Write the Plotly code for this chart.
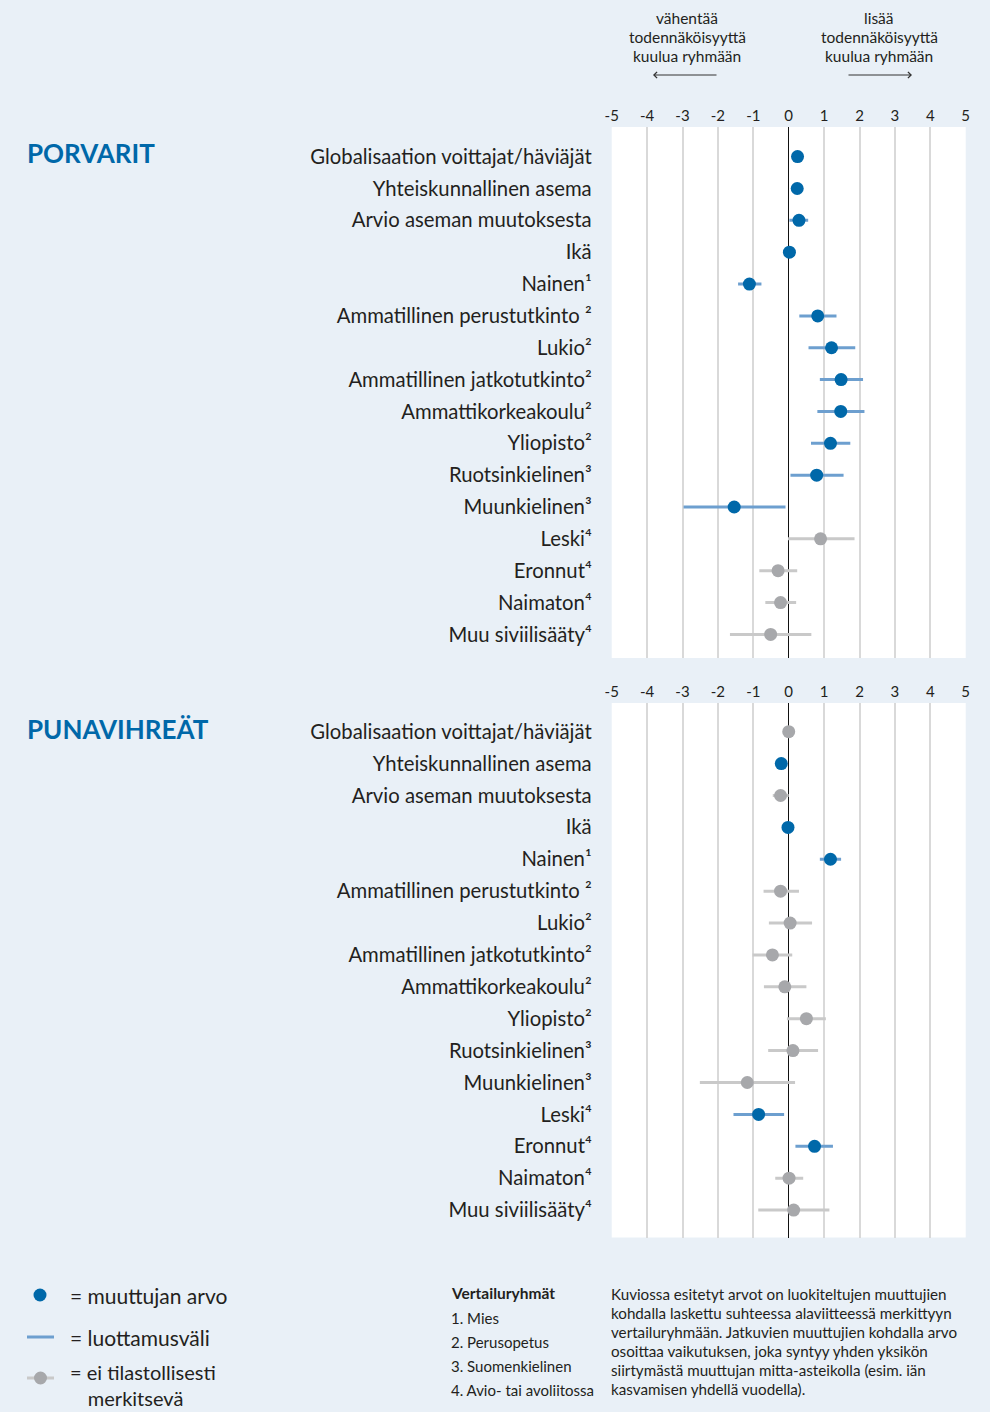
import plotly.graph_objects as go

categories = [
    "Globalisaation voittajat/häviäjät",
    "Yhteiskunnallinen asema",
    "Arvio aseman muutoksesta",
    "Ikä",
    "Nainen¹",
    "Ammatillinen perustutkinto ²",
    "Lukio²",
    "Ammatillinen jatkotutkinto²",
    "Ammattikorkeakoulu²",
    "Yliopisto²",
    "Ruotsinkielinen³",
    "Muunkielinen³",
    "Leski⁴",
    "Eronnut⁴",
    "Naimaton⁴",
    "Muu siviilisääty⁴",
]

porvarit_est = [0.25, 0.24, 0.29, 0.02, -1.11, 0.82, 1.21, 1.48, 1.47, 1.18, 0.79, -1.54, 0.90, -0.30, -0.23, -0.51]
porvarit_lo = [0.17, 0.16, 0.02, -0.06, -1.43, 0.30, 0.56, 0.88, 0.81, 0.63, 0.05, -2.97, -0.02, -0.83, -0.66, -1.66]
porvarit_hi = [0.33, 0.32, 0.55, 0.10, -0.77, 1.35, 1.88, 2.10, 2.14, 1.74, 1.55, -0.09, 1.86, 0.24, 0.21, 0.64]
porvarit_sig = [1, 1, 1, 1, 1, 1, 1, 1, 1, 1, 1, 1, 0, 0, 0, 0]

punavihreat_est = [0.00, -0.21, -0.23, -0.02, 1.18, -0.23, 0.04, -0.46, -0.11, 0.50, 0.12, -1.17, -0.85, 0.73, 0.01, 0.14]
punavihreat_lo = [-0.08, -0.29, -0.45, -0.10, 0.88, -0.71, -0.56, -1.02, -0.70, -0.05, -0.58, -2.51, -1.56, 0.19, -0.38, -0.86]
punavihreat_hi = [0.08, -0.13, 0.00, 0.06, 1.48, 0.29, 0.66, 0.10, 0.50, 1.05, 0.83, 0.18, -0.13, 1.25, 0.41, 1.15]
punavihreat_sig = [0, 1, 0, 1, 1, 0, 0, 0, 0, 0, 0, 0, 1, 1, 0, 0]

x_ticks = [-5, -4, -3, -2, -1, 0, 1, 2, 3, 4, 5]

BG = "#e9f0f7"
BLUE = "#0068a9"
BLUE_CI = "#6d9fcf"
GREY = "#a7a8ab"
GREY_CI = "#c9c9c9"
TXT = "#231f20"
FONT = "Lato"

fig = go.Figure()


def add_panel(est, lo, hi, sig, xa, ya):
    for flag, mcol, lcol in [(0, GREY, GREY_CI), (1, BLUE, BLUE_CI)]:
        idx = [i for i, s in enumerate(sig) if s == flag]
        fig.add_trace(go.Scatter(
            x=[est[i] for i in idx],
            y=[i for i in idx],
            mode="markers",
            marker=dict(size=13, color=mcol, line=dict(width=0)),
            error_x=dict(
                type="data", symmetric=False,
                array=[hi[i] - est[i] for i in idx],
                arrayminus=[est[i] - lo[i] for i in idx],
                color=lcol, thickness=3, width=0,
            ),
            xaxis=xa, yaxis=ya, showlegend=False, hoverinfo="skip",
        ))


add_panel(porvarit_est, porvarit_lo, porvarit_hi, porvarit_sig, "x", "y")
add_panel(punavihreat_est, punavihreat_lo, punavihreat_hi, punavihreat_sig, "x2", "y2")

xdom = [611.7 / 990, 965.7 / 990]
axis_x = dict(
    range=[-5, 5], tickvals=x_ticks, ticktext=[str(v) for v in x_ticks],
    side="top", showgrid=True, gridcolor="#d9d9d9", gridwidth=2,
    zeroline=True, zerolinecolor="#111111", zerolinewidth=1.5,
    showline=False, ticks="", tickfont=dict(family=FONT, size=15, color=TXT),
    ticklabelstandoff=2, fixedrange=True, automargin=False,
)
axis_y = dict(
    tickvals=list(range(len(categories))), ticktext=categories,
    showgrid=False, zeroline=False, showline=False, ticks="",
    tickfont=dict(family=FONT, size=20.3, color=TXT),
    ticklabelstandoff=19, fixedrange=True, automargin=False,
)

fig.update_layout(
    template="none",
    width=990, height=1412,
    margin=dict(l=0, r=0, t=0, b=0, pad=0, autoexpand=False),
    paper_bgcolor=BG, plot_bgcolor="white",
    showlegend=False,
    xaxis=dict(axis_x, domain=xdom, anchor="y"),
    yaxis=dict(axis_y, domain=[1 - 658 / 1412, 1 - 127 / 1412], range=[15.74, -0.93], anchor="x"),
    xaxis2=dict(axis_x, domain=xdom, anchor="y2"),
    yaxis2=dict(axis_y, domain=[1 - 1237.5 / 1412, 1 - 703 / 1412], range=[15.86, -0.9], anchor="x2"),
)


def px_x(p):
    return p / 990


def px_y(p):
    return 1 - p / 1412


ann = []


def text(x, y, s, size=14, color=TXT, xanchor="left", align="left", bold=False, family=FONT):
    if bold:
        s = "<b>" + s + "</b>"
    ann.append(dict(x=px_x(x), y=px_y(y), xref="paper", yref="paper", text=s,
                    showarrow=False, xanchor=xanchor, yanchor="middle", align=align,
                    borderpad=0, borderwidth=0,
                    font=dict(family=family, size=size, color=color)))


# header explanations
hdr_left = ["vähentää", "todennäköisyyttä", "kuulua ryhmään"]
hdr_right = ["lisää", "todennäköisyyttä", "kuulua ryhmään"]
for k, s in enumerate(hdr_left):
    text(687, 18 + 19 * k, s, size=15.5, xanchor="center")
for k, s in enumerate(hdr_right):
    text(879, 18 + 19 * k, s, size=15.5, xanchor="center")

# arrows
for x0, x1 in [(718, 653), (847, 912)]:
    ann.append(dict(x=px_x(x1), y=px_y(75), ax=x0 - x1, ay=0, xref="paper", yref="paper",
                    axref="pixel", ayref="pixel", text="", showarrow=True, arrowhead=4,
                    arrowsize=1.2, arrowwidth=1, arrowcolor="#333333"))

# panel titles
text(27, 153, "PORVARIT", size=26, color=BLUE, bold=True)
text(27, 729, "PUNAVIHREÄT", size=26, color=BLUE, bold=True)

# legend
text(70, 1295, "= muuttujan arvo", size=21)
text(70, 1337, "= luottamusväli", size=21)
text(70, 1385, "= ei tilastollisesti<br>\u00a0\u00a0\u00a0\u2009merkitsevä", size=20)

text(451, 1293, "Vertailuryhmät", size=15.5, bold=True)
for k, s in enumerate(["1. Mies", "2. Perusopetus", "3. Suomenkielinen", "4. Avio- tai avoliitossa"]):
    text(451, 1318 + 24 * k, s, size=15)

note_lines = [
    "Kuviossa esitetyt arvot on luokiteltujen muuttujien",
    "kohdalla laskettu suhteessa alaviitteessä merkittyyn",
    "vertailuryhmään. Jatkuvien muuttujien kohdalla arvo",
    "osoittaa vaikutuksen, joka syntyy yhden yksikön",
    "siirtymästä muuttujan mitta-asteikolla (esim. iän",
    "kasvamisen yhdellä vuodella).",
]
for k, s in enumerate(note_lines):
    text(611, 1294 + 19 * k, s, size=15.2)

fig.update_layout(annotations=ann)

# legend keys (decorative shapes)
shapes = [
    dict(type="circle", xref="paper", yref="paper",
         x0=px_x(33.5), x1=px_x(46.5), y0=px_y(1301.5), y1=px_y(1288.5),
         fillcolor=BLUE, line=dict(width=0)),
    dict(type="line", xref="paper", yref="paper",
         x0=px_x(27), x1=px_x(54), y0=px_y(1337), y1=px_y(1337),
         line=dict(color=BLUE_CI, width=3)),
    dict(type="line", xref="paper", yref="paper",
         x0=px_x(27), x1=px_x(54), y0=px_y(1378), y1=px_y(1378),
         line=dict(color=GREY_CI, width=3)),
    dict(type="circle", xref="paper", yref="paper",
         x0=px_x(34), x1=px_x(47), y0=px_y(1384.5), y1=px_y(1371.5),
         fillcolor=GREY, line=dict(width=0)),
]
fig.update_layout(shapes=shapes)

fig.write_html(
    "out.html",
    config={"displayModeBar": False, "staticPlot": True},
    post_script="document.body.style.margin='0';document.body.style.overflow='hidden';",
)
